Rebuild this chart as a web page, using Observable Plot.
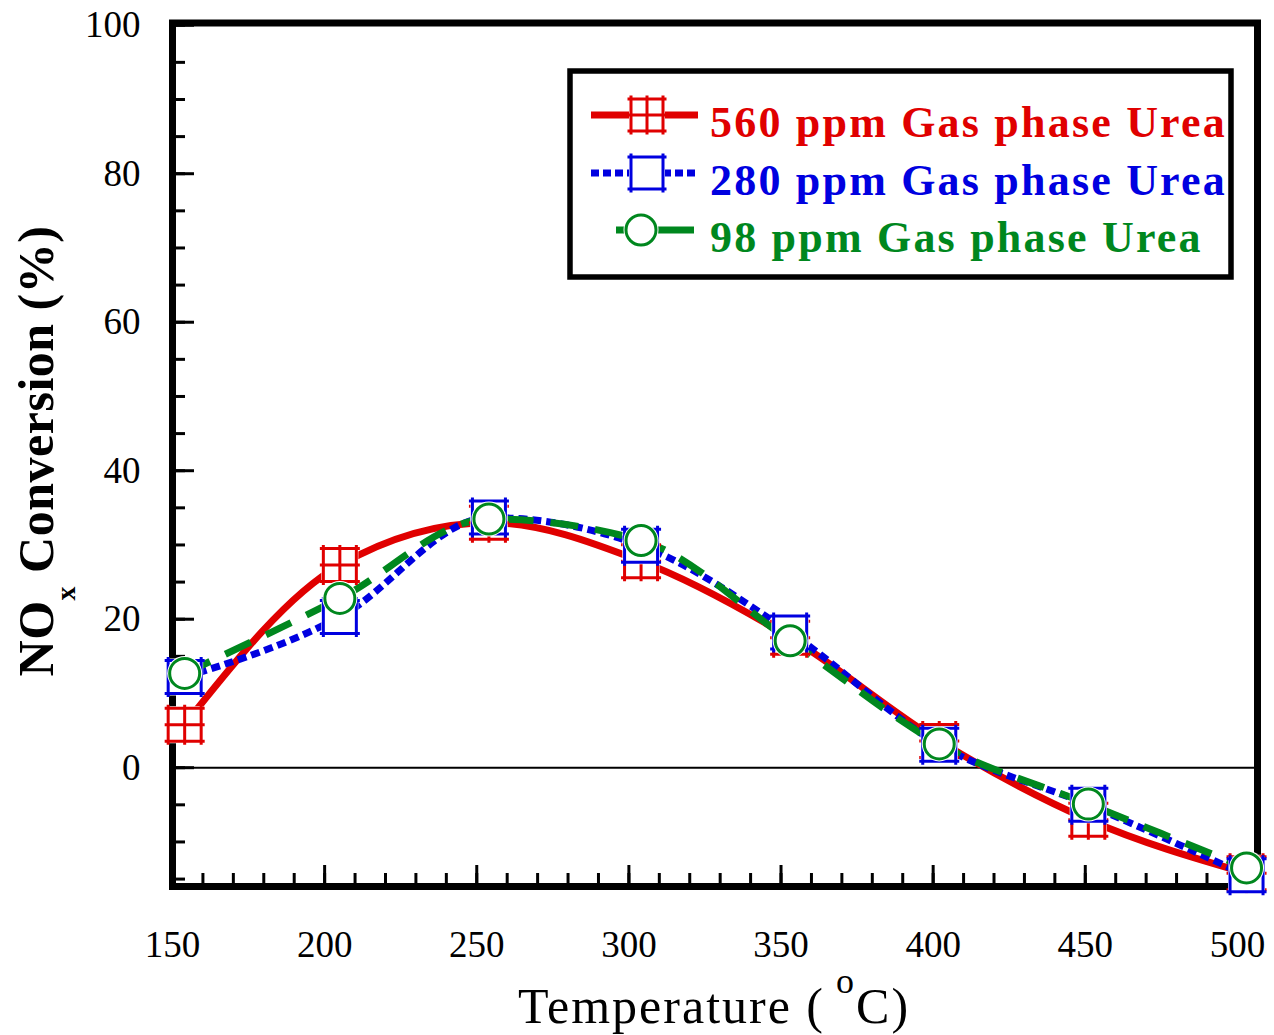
<!DOCTYPE html>
<html>
<head>
<meta charset="utf-8">
<script src="https://cdn.jsdelivr.net/npm/d3@7"></script>
<script src="https://cdn.jsdelivr.net/npm/@observablehq/plot@0.6"></script>
<style>
  html, body { margin: 0; padding: 0; background: #fff; }
  #chart svg { display: block; overflow: visible; }
</style>
</head>
<body>
<div id="chart"></div>
<script>
// Reaction temperature (°C) at which each conversion was measured
const temperature = [154, 205, 254, 304, 353, 402, 451, 503];

// NOx conversion (%) for three gas-phase urea dosings
const urea560 = [5.8, 27.3, 33.0, 27.8, 17.5, 3.6, -7.0, -14.2];
const urea280 = [12.2, 20.3, 33.7, 29.9, 18.2, 3.1, -5.0, -14.5];
const urea98  = [12.7, 22.8, 33.5, 30.6, 17.1, 3.2, -4.9, -13.5];

const seriesLabels = ["560 ppm Gas phase Urea", "280 ppm Gas phase Urea", "98 ppm Gas phase Urea"];

// Axis ticks
const xLabelTicks = [150, 200, 250, 300, 350, 400, 450, 500];
const xMinorTicks = d3.range(160, 501, 10);
const yLabelTicks = [0, 20, 40, 60, 80, 100];
const yMinorTicks = d3.range(-15, 101, 5);

const RED = "#e00000", BLUE = "#0000e0", GREEN = "#00871e";

const rows = (values) => temperature.map((t, i) => ({t, v: values[i]}));
const d560 = rows(urea560), d280 = rows(urea280), d98 = rows(urea98);

// Marker shapes (size = r*r*PI, so sqrt(size/PI) is the half side)
const EXT = 3.5;
const half = (size) => Math.sqrt(size / Math.PI);
const gridSquare = {
  draw(ctx, size) {
    const h = half(size);
    for (const k of [-h, 0, h]) {
      ctx.moveTo(k, -h - EXT); ctx.lineTo(k, h + EXT);
      ctx.moveTo(-h - EXT, k); ctx.lineTo(h + EXT, k);
    }
  }
};
const openSquare = {
  draw(ctx, size) {
    const h = half(size);
    for (const k of [-h, h]) {
      ctx.moveTo(k, -h - EXT); ctx.lineTo(k, h + EXT);
      ctx.moveTo(-h - EXT, k); ctx.lineTo(h + EXT, k);
    }
  }
};
const boxFill = {
  draw(ctx, size) {
    const h = half(size);
    ctx.rect(-h, -h, 2 * h, 2 * h);
  }
};
const ring = {
  draw(ctx, size) {
    const r = half(size);
    ctx.moveTo(r, 0);
    ctx.arc(0, 0, r, 0, 2 * Math.PI);
  }
};

const lineOpts = {x: "t", y: "v", strokeWidth: 7, curve: "monotone-x", strokeLinejoin: "round", strokeLinecap: "butt"};

const svg = Plot.plot({
  width: 1274,
  height: 1035,
  marginLeft: 172,
  marginRight: 17,
  marginTop: 22.5,
  marginBottom: 149,
  x: {domain: [150, 506.6]},
  y: {domain: [-16, 100.3]},
  style: {fontFamily: "'Liberation Serif', 'Times New Roman', serif", fontSize: "37px", background: "#fff", color: "#000"},
  marks: [
    Plot.ruleY([0], {stroke: "#000", strokeWidth: 2}),
    // inward minor and major ticks
    Plot.axisY(yMinorTicks, {tickSize: -13, strokeWidth: 3, tickFormat: () => "", label: null}),
    Plot.axisY(yLabelTicks, {tickSize: -22, strokeWidth: 3, tickFormat: () => "", label: null}),
    Plot.axisX(xMinorTicks, {tickSize: -13, strokeWidth: 3, tickFormat: () => "", label: null}),
    Plot.axisX(xLabelTicks, {tickSize: -21, strokeWidth: 3, tickFormat: () => "", label: null}),
    // tick labels
    Plot.axisY(yLabelTicks, {tickSize: 0, tickPadding: 32, fontSize: 37, label: null}),
    Plot.axisX(xLabelTicks, {tickSize: 0, tickPadding: 44, fontSize: 37, label: null}),
    // curves
    Plot.line(d560, {...lineOpts, stroke: RED}),
    Plot.line(d280, {...lineOpts, stroke: BLUE, strokeDasharray: "9,5"}),
    Plot.line(d98, {...lineOpts, stroke: GREEN, strokeDasharray: "28,17"}),
    Plot.frame({stroke: "#000", strokeWidth: 7}),
    // markers with white backing
    Plot.dot(d560, {x: "t", y: "v", r: 18.5, symbol: boxFill, fill: "#fff", stroke: "none"}),
    Plot.dot(d560, {x: "t", y: "v", r: 16.5, symbol: gridSquare, fill: "none", stroke: RED, strokeWidth: 3}),
    Plot.dot(d280, {x: "t", y: "v", r: 18.5, symbol: boxFill, fill: "#fff", stroke: "none"}),
    Plot.dot(d280, {x: "t", y: "v", r: 16.5, symbol: openSquare, fill: "none", stroke: BLUE, strokeWidth: 3}),
    Plot.dot(d98, {x: "t", y: "v", r: 17.5, symbol: ring, fill: "#fff", stroke: "none"}),
    Plot.dot(d98, {x: "t", y: "v", r: 15, symbol: ring, fill: "none", stroke: GREEN, strokeWidth: 3})
  ]
});

const root = d3.select(svg);
const SERIF = "'Liberation Serif', 'Times New Roman', serif";

// x-axis title with superscript degree
const xt = root.append("text")
  .attr("x", 714).attr("y", 1023)
  .attr("text-anchor", "middle")
  .attr("font-family", SERIF).attr("font-size", 50)
  .attr("letter-spacing", 2).attr("fill", "#000");
xt.append("tspan").text("Temperature (");
xt.append("tspan").attr("font-size", 36).attr("dy", -30).text(" o");
xt.append("tspan").attr("dy", 30).text("C)");

// y-axis title with subscript x
const yt = root.append("text")
  .attr("transform", "translate(53,451) rotate(-90)")
  .attr("text-anchor", "middle")
  .attr("font-family", SERIF).attr("font-size", 50).attr("font-weight", "bold")
  .attr("letter-spacing", 0.5).attr("fill", "#000");
yt.append("tspan").text("NO");
yt.append("tspan").attr("font-size", 28).attr("dy", 22).text("x");
yt.append("tspan").attr("dy", -22).text(" Conversion (%)");

// legend box
const lg = root.append("g");
lg.append("rect")
  .attr("x", 570).attr("y", 71).attr("width", 661).attr("height", 206)
  .attr("fill", "#fff").attr("stroke", "#000").attr("stroke-width", 5.5);

const legendEntries = [
  {label: seriesLabels[0], color: RED, dash: null, symbol: gridSquare, r: 16, x1: 591, x2: 698, mx: 647, y: 115, bg: boxFill, bgR: 18},
  {label: seriesLabels[1], color: BLUE, dash: "8,4", symbol: openSquare, r: 16, x1: 591, x2: 696, mx: 647, y: 173, bg: boxFill, bgR: 18},
  {label: seriesLabels[2], color: GREEN, dash: null, symbol: ring, r: 15, x1: 616, x2: 694, mx: 641, y: 230, bg: ring, bgR: 17.5}
];
const symPath = (sym, r) => { const p = d3.path(); sym.draw(p, r * r * Math.PI); return p.toString(); };
for (const e of legendEntries) {
  lg.append("line")
    .attr("x1", e.x1).attr("x2", e.x2).attr("y1", e.y).attr("y2", e.y)
    .attr("stroke", e.color).attr("stroke-width", 7)
    .attr("stroke-dasharray", e.dash);
  lg.append("path").attr("transform", `translate(${e.mx},${e.y})`)
    .attr("d", symPath(e.bg, e.bgR)).attr("fill", "#fff");
  lg.append("path").attr("transform", `translate(${e.mx},${e.y})`)
    .attr("d", symPath(e.symbol, e.r)).attr("fill", "none")
    .attr("stroke", e.color).attr("stroke-width", 3);
  lg.append("text")
    .attr("x", 710).attr("y", e.y + 22)
    .attr("text-anchor", "start")
    .attr("font-family", SERIF).attr("font-size", 44).attr("font-weight", "bold")
    .attr("letter-spacing", 2.2).attr("fill", e.color)
    .text(e.label);
}

document.getElementById("chart").append(svg);
</script>
</body>
</html>
